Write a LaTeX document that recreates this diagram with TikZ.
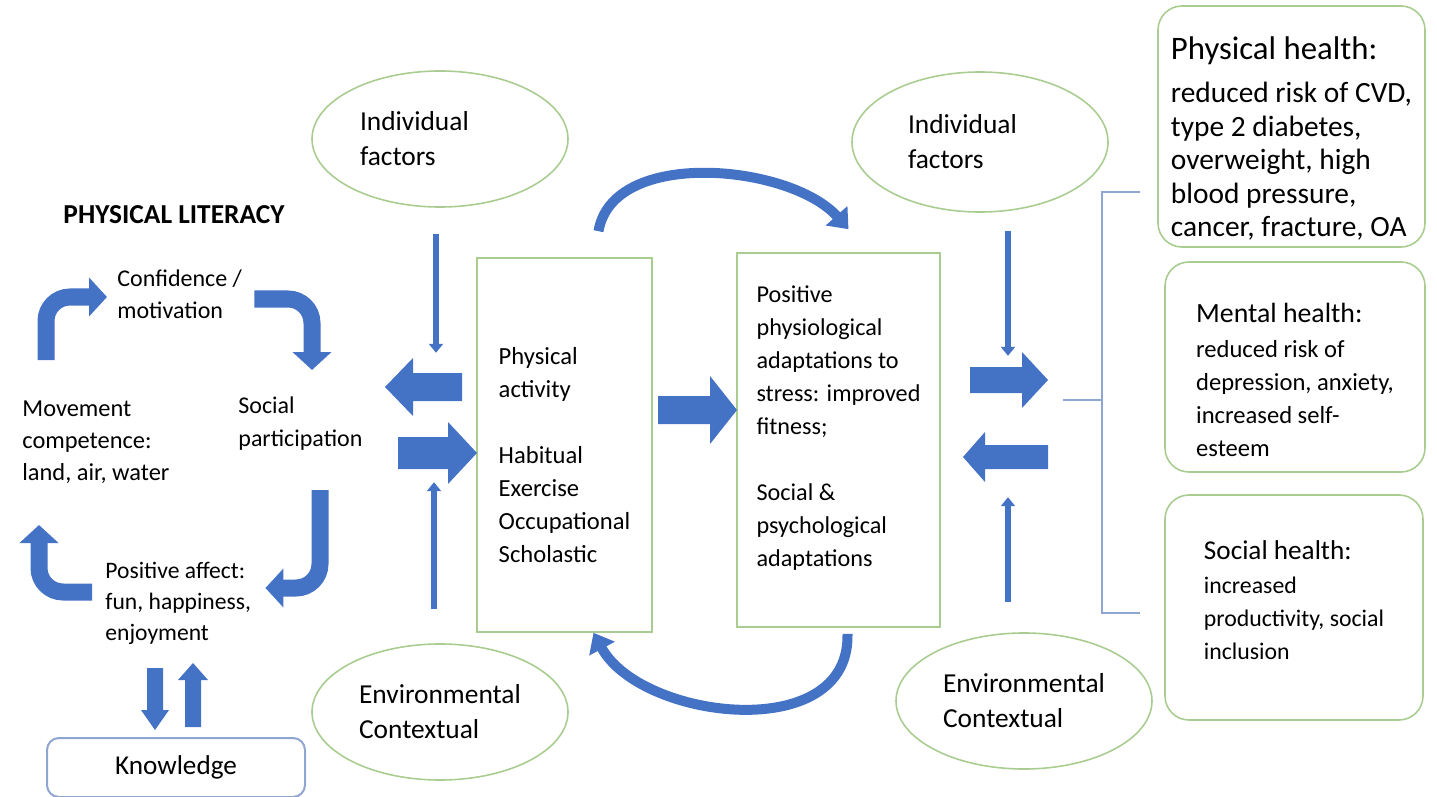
\documentclass[tikz,border=0pt]{standalone}
\usepackage{fontspec}
\setmainfont{Carlito}
\usetikzlibrary{shapes.geometric,arrows.meta,calc}
\definecolor{B}{RGB}{68,114,196}
\definecolor{G}{RGB}{169,205,145}
\definecolor{K}{RGB}{143,165,210}
\newcommand{\fsz}[2]{\fontsize{#1}{#2}\selectfont}
\newcommand{\harrow}[6]{\fill[B] (#1,#4-#5)--(#2,#4-#5)--(#2,#4-#6)--(#3,#4)--(#2,#4+#6)--(#2,#4+#5)--(#1,#4+#5)--cycle;}
\newcommand{\varrow}[6]{\fill[B] (#4-#5,#1)--(#4-#5,#2)--(#4-#6,#2)--(#4,#3)--(#4+#6,#2)--(#4+#5,#2)--(#4+#5,#1)--cycle;}

\begin{document}
\begin{tikzpicture}[x=0.5pt,y=-0.5pt,
  ell/.style={ellipse,draw=G,line width=0.8pt,minimum width=128pt,minimum height=68pt,inner sep=0pt,align=left,font=\fsz{13.7}{17.5}},
  pbox/.style={draw=G,line width=0.8pt,align=left,inner sep=0pt,minimum height=187pt},
  hbox/.style={draw=G,line width=0.8pt,rounded corners=12pt,align=left,inner sep=0pt},
  txt/.style={inner sep=0pt,align=left,anchor=west},
  bentarr/.style={draw=B,line width=8.5pt,rounded corners=12pt,-{Triangle[width=19pt,length=9pt]}},
  curvarr/.style={draw=B,line width=5pt,-{Triangle[width=14pt,length=9pt]}},
  thinarr/.style={draw=B,line width=3pt,-{Triangle[width=7pt,length=4.5pt]}}]
\useasboundingbox (0,0) rectangle (1437,797);
\node[font=\bfseries\fsz{13.7}{16}] (pl) at (174,215) {PHYSICAL LITERACY};
\node[txt,font=\fsz{12}{16}] (conf) at (117,294) {Confidence /\\motivation};
\node[txt,font=\fsz{12.2}{16}] (move) at (22,442) {Movement\\competence:\\land, air, water};
\node[txt,font=\fsz{12}{16.5}] (socp) at (238,424) {Social\\participation};
\node[txt,font=\fsz{11.8}{15.5}] (posa) at (105,603) {Positive affect:\\fun, happiness,\\enjoyment};
\node[draw=K,line width=1pt,rounded corners=6pt,minimum width=129pt,minimum height=29.5pt,font=\fsz{13.6}{16}] (kn) at (176,767.5) {Knowledge};
\draw[bentarr] (46,360) |- ($(conf.west)+(-10,3)$);
\draw[bentarr] ($(conf.east)+(12,5)$) -| (312,370);
\draw[bentarr] (320,490) |- ($(posa.east)+(14,-15)$);
\draw[bentarr] ($(posa.west)+(-13,-11)$) -| (39,525);
\varrow{668}{710}{730}{155}{8}{14}
\varrow{727}{680}{663}{193}{8}{15}
\node[ell,text width=80pt] (indL) at (440,139) {Individual\\factors};
\node[ell,text width=72pt,minimum height=70pt] (indR) at (980,142) {Individual\\factors};
\node[ell] (envL) at (440,712) {Environmental\\Contextual};
\node[ell] (envR) at (1024,701) {Environmental\\Contextual};
\node[pbox,minimum width=87.5pt,font=\fsz{12.3}{16.5}] (pa) at (564.5,445) {\rule{0pt}{19pt}Physical\\activity\\[16.5pt]Habitual\\Exercise\\Occupational\\Scholastic};
\node[pbox,minimum width=101.5pt,font=\fsz{12.1}{16.5}] (ad) at (838.5,440) {Positive\\physiological\\adaptations to\\stress: improved\\fitness;\\[16.5pt]Social \&\\psychological\\adaptations\rule[-14pt]{0pt}{0pt}};
\node[hbox,minimum width=133.5pt,minimum height=120.5pt,font=\fsz{14.7}{16.75}] (phy) at (1291.5,126.5) {{\fsz{16.4}{16.75}\rule{0pt}{23.5pt}Physical health:}\\[4.75pt]reduced risk of CVD,\\type 2 diabetes,\\overweight, high\\blood pressure,\\cancer, fracture, OA};
\node[hbox,minimum width=130pt,minimum height=105pt,font=\fsz{12.3}{16.5}] (men) at (1295,367) {{\fsz{13.9}{16.5}\rule{0pt}{22.7pt}Mental health:}\\[1pt]reduced risk of\\depression, anxiety,\\increased self-\\esteem};
\node[hbox,minimum width=129pt,minimum height=112.5pt,font=\fsz{11.9}{16.5}] (soc) at (1294,607.5) {{\fsz{13.6}{16.5}Social health:}\\[0.5pt]increased\\productivity, social\\inclusion\rule[-7pt]{0pt}{0pt}};
\draw[thinarr] ($(indL.south)+(-4,26)$) -- ++(0,119);
\draw[thinarr] ($(envL.north)+(-6,-34)$) -- ++(0,-127);
\draw[thinarr] ($(indR.south)+(28,18)$) -- ++(0,125);
\draw[thinarr] ($(envR.north)+(-16,-30)$) -- ++(0,-105);
\harrow{462}{413}{385}{387}{14}{29}
\harrow{398}{448}{477}{453}{16}{31}
\harrow{658}{710}{737}{410}{14}{34}
\harrow{970}{1022}{1048}{380}{13}{28}
\harrow{1048}{985}{963}{457}{12}{25}
\draw[curvarr] ($(pa.north)+(34,-26)$) .. controls +(14,-84) and +(-58,-65) .. ($(ad.north)+(10,-23)$);
\draw[curvarr] ($(ad.south)+(9,6)$) .. controls +(3,112) and +(47,87) .. ($(pa.south)+(29,0)$);
\draw[K,line width=1pt] (1063,400) -- (1102,400);
\draw[K,line width=1pt] (1140,192) -- (1102,192) -- (1102,613) -- (1140,613);
\end{tikzpicture}
\end{document}
